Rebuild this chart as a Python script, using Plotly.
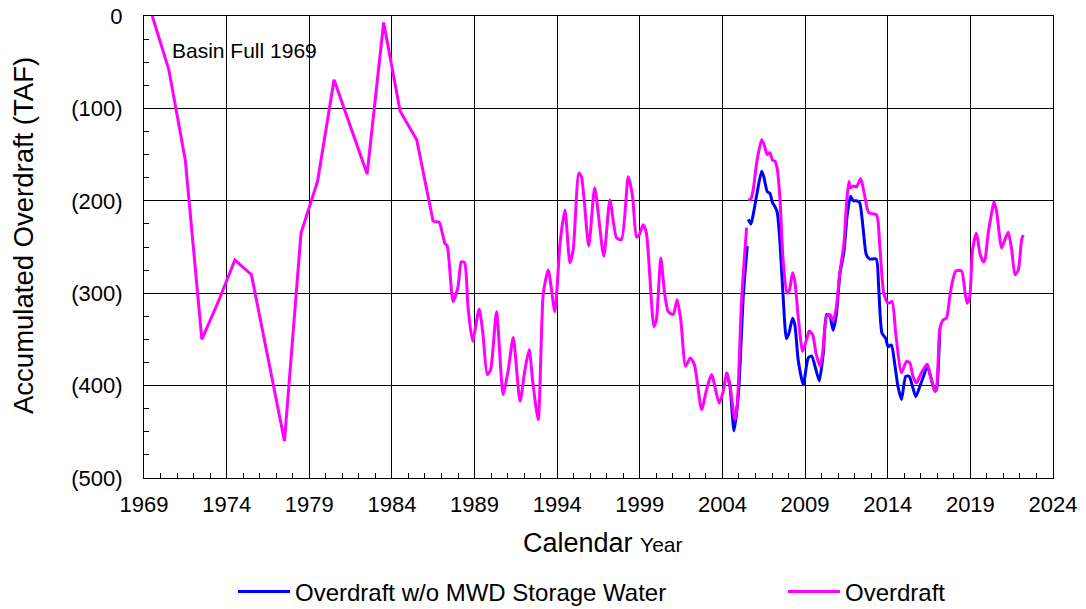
import plotly.graph_objects as go

# ---------------- data ----------------
# Annual points, Overdraft (straight segments)
od_early_year = [1969.5, 1970.5, 1971.5, 1972.5, 1973.5, 1974.5, 1975.5, 1977.5,
                 1978.5, 1979.5, 1980.5, 1982.5, 1983.5, 1984.5, 1985.5, 1986.5]
od_early_val = [0, -58, -156, -350, -309, -264, -280, -460,
                -235, -179, -69, -171, -7, -103, -134, -223]

# Overdraft, sub-annual 1986.5 - 2005.5
od_mid_year = [1986.5, 1986.85, 1987.05, 1987.2, 1987.35, 1987.7, 1988.0, 1988.2, 1988.4,
               1988.6, 1988.88, 1989.28, 1989.5, 1989.77, 1989.97, 1990.33, 1990.73, 1991.04,
               1991.34, 1991.75, 1992.05, 1992.31, 1992.51, 1992.85, 1993.16, 1993.46, 1993.86,
               1994.17, 1994.47, 1994.77, 1994.97, 1995.31, 1995.47, 1995.91, 1996.27, 1996.82,
               1997.19, 1997.59, 1997.89, 1998.3, 1998.56, 1998.8, 1998.96, 1999.2, 1999.4,
               1999.85, 2000.0, 2000.27, 2000.5, 2000.72, 2001.02, 2001.26, 2001.48, 2001.77,
               2002.05, 2002.3, 2002.74, 2003.04, 2003.34, 2003.8, 2004.05, 2004.25, 2004.45,
               2004.75, 2004.9, 2005.15, 2005.46]
od_mid_val = [-223, -223, -235, -246, -249, -309, -293, -266, -267,
              -314, -352, -317, -343, -388, -383, -320, -410, -383,
              -348, -417, -383, -361, -394, -437, -300, -275, -320,
              -246, -210, -267, -253, -170, -174, -249, -186, -260,
              -199, -240, -242, -174, -195, -239, -237, -226, -235,
              -336, -329, -262, -300, -320, -323, -307, -329, -379,
              -370, -377, -426, -404, -388, -419, -406, -386, -399,
              -437, -420, -310, -229]

# Overdraft, 2005.5 onward
od_late_year = [2005.56, 2005.72, 2005.86, 2006.07, 2006.37, 2006.5, 2006.71, 2006.87, 2007.03,
                2007.17, 2007.31, 2007.47, 2007.67, 2007.91, 2008.05, 2008.24, 2008.38, 2008.58,
                2008.85, 2009.09, 2009.25, 2009.46, 2009.66, 2009.9, 2010.06, 2010.3, 2010.5,
                2010.7, 2010.9, 2011.1, 2011.35, 2011.51, 2011.65, 2011.75, 2011.91, 2012.11,
                2012.37, 2012.61, 2012.85, 2013.32, 2013.52, 2013.76, 2014.02, 2014.26, 2014.48,
                2014.83, 2015.13, 2015.33, 2015.53, 2015.74, 2016.04, 2016.38, 2016.59, 2016.85,
                2016.95, 2017.15, 2017.35, 2017.55, 2017.76, 2017.92, 2018.12, 2018.47, 2018.67,
                2018.81, 2018.97, 2019.13, 2019.37, 2019.58, 2019.78, 2019.88, 2020.08, 2020.29,
                2020.43, 2020.59, 2020.89, 2021.09, 2021.29, 2021.5, 2021.7, 2021.9, 2022.1, 2022.2]
od_late_val = [-199, -198, -188, -159, -134, -138, -150, -148, -156,
               -157, -165, -195, -264, -300, -297, -278, -287, -325,
               -363, -350, -341, -345, -365, -379, -365, -325, -323,
               -330, -314, -278, -246, -202, -179, -186, -184, -185,
               -176, -195, -213, -215, -249, -300, -311, -309, -343,
               -386, -374, -375, -390, -397, -386, -377, -390, -406,
               -404, -339, -329, -327, -303, -287, -276, -276, -298,
               -311, -303, -253, -235, -257, -266, -264, -235, -213,
               -201, -212, -251, -242, -234, -253, -280, -275, -242, -237]

# Overdraft w/o MWD Storage Water
nomwd_a_year = [2004.25, 2004.45, 2004.7, 2004.97, 2005.26, 2005.5]
nomwd_a_val = [-386, -400, -449, -408, -303, -249]
nomwd_b_year = [2005.56, 2005.72, 2005.86, 2006.07, 2006.37, 2006.5, 2006.71, 2006.87, 2007.03,
                2007.17, 2007.31, 2007.47, 2007.67, 2007.87, 2008.03, 2008.24, 2008.38, 2008.58,
                2008.89, 2009.19, 2009.4, 2009.6, 2009.86, 2010.1, 2010.3, 2010.5, 2010.7,
                2010.9, 2011.1, 2011.35, 2011.55, 2011.75, 2011.91, 2012.1, 2012.3, 2012.5,
                2012.7, 2012.9, 2013.3, 2013.45, 2013.65, 2013.88, 2014.02, 2014.22, 2014.42,
                2014.62, 2014.83, 2015.09, 2015.3, 2015.5, 2015.7, 2015.94, 2016.24, 2016.38,
                2016.59, 2016.85, 2016.95, 2017.15]
nomwd_b_val = [-220, -225, -215, -194, -168, -174, -190, -192, -202,
               -206, -212, -242, -303, -349, -343, -327, -334, -372,
               -399, -370, -368, -379, -395, -365, -323, -325, -340,
               -322, -280, -255, -215, -195, -200, -200, -202, -228,
               -258, -263, -263, -293, -343, -349, -358, -356, -376,
               -401, -415, -390, -390, -401, -412, -401, -386, -377,
               -390, -406, -404, -339]

x_tick_vals = [1969, 1974, 1979, 1984, 1989, 1994, 1999, 2004, 2009, 2014, 2019, 2024]
y_tick_vals = [0, -100, -200, -300, -400, -500]
y_tick_text = ["0", "(100)", "(200)", "(300)", "(400)", "(500)"]

BLUE = "#0000FF"
MAGENTA = "#FF00FF"
FONT = "Arial, Liberation Sans, sans-serif"

# body margin is removed in the page (post_script), so the figure fills the window
W, H = 1086, 609
PL, PT, PW, PH = 144, 16, 909, 462   # plot area in window pixels


def px(xw):
    return (xw - PL) / PW


def py(yw):
    return 1 - (yw - PT) / PH


fig = go.Figure()

# blue series (with gap at 2005.5)
fig.add_trace(go.Scatter(
    x=nomwd_a_year + [None] + nomwd_b_year,
    y=nomwd_a_val + [None] + nomwd_b_val,
    mode="lines", name="Overdraft w/o MWD Storage Water", legend="legend",
    line=dict(color=BLUE, width=3, shape="spline", smoothing=0.6),
    connectgaps=False,
))

# magenta early annual (straight)
fig.add_trace(go.Scatter(
    x=od_early_year, y=od_early_val, mode="lines", showlegend=False,
    line=dict(color=MAGENTA, width=3),
))
# magenta sub-annual
fig.add_trace(go.Scatter(
    x=od_mid_year + [None] + od_late_year,
    y=od_mid_val + [None] + od_late_val,
    mode="lines", name="Overdraft", legend="legend2",
    line=dict(color=MAGENTA, width=3, shape="spline", smoothing=0.6),
    connectgaps=False,
))

fig.add_annotation(x=1970.55, y=-37, xref="x", yref="y", text="Basin Full 1969",
                   showarrow=False, xanchor="left", yanchor="middle",
                   font=dict(family=FONT, size=21, color="black"))

# axis titles
fig.add_annotation(x=px(603), y=py(543), xref="paper", yref="paper",
                   text="Calendar <span style='font-size:21px'>Year</span>",
                   showarrow=False, xanchor="center", yanchor="middle",
                   font=dict(family=FONT, size=27, color="black"))
fig.add_annotation(x=px(23), y=py(236), xref="paper", yref="paper",
                   text="Accumulated Overdraft (TAF)", textangle=-90,
                   showarrow=False, xanchor="center", yanchor="middle",
                   font=dict(family=FONT, size=27.5, color="black"))

leg_common = dict(orientation="h", yref="container", xref="container",
                  y=1 - 592 / H, yanchor="middle", xanchor="left",
                  font=dict(family=FONT, size=24, color="black"),
                  itemwidth=52, bgcolor="rgba(0,0,0,0)", borderwidth=0)

fig.update_layout(
    width=W, height=H,
    margin=dict(l=PL, r=W - PL - PW, t=PT, b=H - PT - PH, autoexpand=False),
    paper_bgcolor="white", plot_bgcolor="white",
    font=dict(family=FONT, color="black"),
    showlegend=True,
    legend=dict(x=233 / W, **leg_common),
    legend2=dict(x=783 / W, **leg_common),
    xaxis=dict(
        range=[1969, 2024], tickmode="array", tickvals=x_tick_vals,
        ticks="inside", ticklen=6, tickcolor="black",
        showgrid=True, gridcolor="black", gridwidth=1,
        showline=True, linecolor="black", linewidth=1, mirror=True,
        zeroline=False, automargin=False, ticklabeloverflow="allow",
        tickfont=dict(family=FONT, size=22, color="black"),
        ticklabelstandoff=7,
        minor=dict(dtick=1, ticks="inside", ticklen=5, tickcolor="black", showgrid=False),
    ),
    yaxis=dict(
        range=[-500, 0], tickmode="array", tickvals=y_tick_vals, ticktext=y_tick_text,
        ticks="inside", ticklen=6, tickcolor="black",
        showgrid=True, gridcolor="black", gridwidth=1,
        showline=True, linecolor="black", linewidth=1, mirror=True,
        zeroline=False, automargin=False, ticklabeloverflow="allow",
        tickfont=dict(family=FONT, size=22, color="black"),
        ticklabelstandoff=16,
        minor=dict(dtick=25, ticks="inside", ticklen=5, tickcolor="black", showgrid=False),
    ),
)

fig.write_html("out.html", config={"displayModeBar": False},
               post_script="document.body.style.margin='0px';document.body.style.padding='0px';")
